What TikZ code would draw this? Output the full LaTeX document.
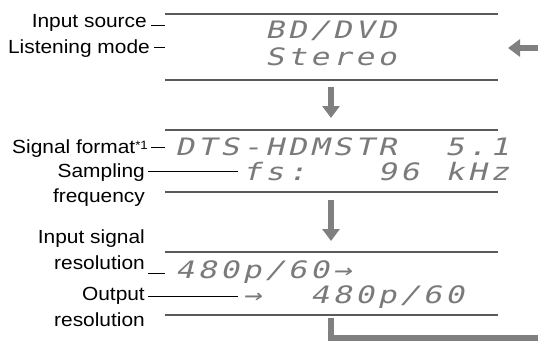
\documentclass[tikz,border=0pt]{standalone}
\usepackage{fontspec}
\setmainfont{Liberation Sans}[FakeStretch=1.1]
\newfontfamily\lcdfont{DejaVu Sans Mono}[FakeSlant=0.25, FakeStretch=1.3]
\usetikzlibrary{arrows.meta}
\definecolor{linegray}{HTML}{5A5A5A}
\definecolor{arrowgray}{HTML}{808080}
\definecolor{lcdgray}{HTML}{7A7A7A}
\newcommand\lcdrow[4]{%
  \foreach \c [count=\i from #2] in {#4} {\node[lcd] (#1-\i) at (175+22.5*\i, #3) {\c};}}
\begin{document}
\begin{tikzpicture}[x=1pt,y=-1pt,
  lbl/.style={anchor=base east, inner sep=0pt, font=\fontsize{19}{22}\selectfont},
  lcd/.style={anchor=base west, inner sep=0pt, text=lcdgray, font=\lcdfont\fontsize{24}{26}\selectfont},
  rule/.style={draw=linegray, line width=1.1pt},
  lead/.style={draw=black, line width=0.8pt},
  flow/.style={draw=arrowgray, line width=6pt},
  flowtip/.style={flow, -{Triangle[width=17pt,length=12pt]}}]
\useasboundingbox (0,0) rectangle (538,341);
% panel rules
\coordinate (p1tl) at (165,14);  \coordinate (p1tr) at (498,14);
\coordinate (p1bl) at (165,80);  \coordinate (p1br) at (498,80);
\coordinate (p2tl) at (165,130); \coordinate (p2tr) at (498,130);
\coordinate (p2bl) at (165,192); \coordinate (p2br) at (498,192);
\coordinate (p3tl) at (165,252); \coordinate (p3tr) at (498,252);
\coordinate (p3bl) at (165,315); \coordinate (p3br) at (498,315);
\foreach \a/\b in {p1tl/p1tr,p1bl/p1br,p2tl/p2tr,p2bl/p2br,p3tl/p3tr,p3bl/p3br}
  \draw[rule] (\a) -- (\b);
% display text
\lcdrow{bd}{4}{38.5}{B,D,/,D,V,D}
\lcdrow{st}{4}{65.5}{S,t,e,r,e,o}
\lcdrow{dts}{0}{155.5}{D,T,S,-,H,D,M,S,T,R}
\lcdrow{ch}{12}{155.5}{5,.,1}
\lcdrow{fs}{3}{180.5}{f,s,:}
\lcdrow{nn}{9}{180.5}{9,6}
\lcdrow{khz}{12}{180.5}{k,H,z}
\lcdrow{inr}{0}{278.5}{4,8,0,p,/,6,0,→}
\lcdrow{oa}{3}{303.5}{→}
\lcdrow{outr}{6}{303.5}{4,8,0,p,/,6,0}
% labels
\node[lbl] (src) at (147,27) {Input source};
\node[lbl] (mode) at (150,53) {Listening mode};
\node[lbl] (fmt) at (148,153) {Signal format{\fontsize{12}{12}\selectfont\raisebox{4pt}{*1}}};
\node[lbl] (samp) at (145,177) {Sampling};
\node[lbl] (freq) at (145,202) {frequency};
\node[lbl] (insig) at (145,243) {Input signal};
\node[lbl] (inres) at (145,269) {resolution};
\node[lbl] (outp) at (145,300) {Output};
\node[lbl] (outres) at (145,326) {resolution};
% leaders
\coordinate (l1) at (165,25);  \draw[lead] ([xshift=4pt]src.east |- l1) -- (l1);
\coordinate (l2) at (165,47);  \draw[lead] ([xshift=4pt]mode.east |- l2) -- (l2);
\coordinate (l3) at (165,147); \draw[lead] ([xshift=3pt]fmt.east |- l3) -- (l3);
\coordinate (l4) at (238,171); \draw[lead] ([xshift=3pt]samp.east |- l4) -- (l4);
\coordinate (l5) at (165,273); \draw[lead] ([xshift=3pt]inres.east |- l5) -- (l5);
\coordinate (l6) at (238,296); \draw[lead] ([xshift=3pt]outp.east |- l6) -- (l6);
% flow arrows
\coordinate (ra0) at (538,48); \coordinate (ra1) at (508,48);
\draw[flowtip] (ra0) -- (ra1);
\coordinate (d1a) at (331,87);  \coordinate (d1b) at (331,118);
\draw[flowtip] (d1a) -- (d1b);
\coordinate (d2a) at (331,200); \coordinate (d2b) at (331,241);
\draw[flowtip] (d2a) -- (d2b);
\coordinate (r0) at (331,318); \coordinate (r1) at (331,338); \coordinate (r2) at (538,338);
\draw[flow, line join=miter] (r0) -- (r1) -- (r2);
\end{tikzpicture}
\end{document}
